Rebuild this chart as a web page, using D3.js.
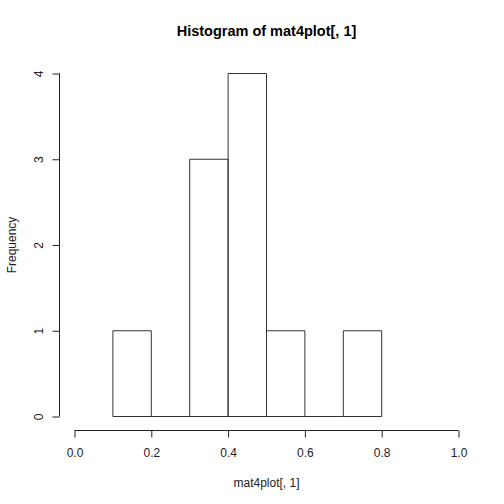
<!DOCTYPE html>
<html lang="en">
<head>
<meta charset="UTF-8">
<title>Histogram of mat4plot[, 1]</title>
<script src="https://d3js.org/d3.v7.min.js"></script>
<style>
  body { margin: 0; padding: 0; background: #fff; }
  svg { font-family: "Liberation Sans", Arial, Helvetica, sans-serif; }
</style>
</head>
<body>
<svg id="chart"></svg>
<script>
const binEdges = [0.1, 0.2, 0.3, 0.4, 0.5, 0.6, 0.7, 0.8];
const counts = [1, 0, 3, 4, 1, 0, 1];
const xTicks = [0, 0.2, 0.4, 0.6, 0.8, 1.0];
const yTicks = [0, 1, 2, 3, 4];

const width = 504, height = 504;
const svg = d3.select("#chart").attr("width", width).attr("height", height);

const x = d3.scaleLinear().domain([0, 1]).range([74.5, 458.5]);
const y = d3.scaleLinear().domain([0, 4]).range([416.5, 73.5]);

// bars drawn as closed paths so empty bins still show their baseline
const bins = counts.map((c, i) => ({ x0: binEdges[i], x1: binEdges[i + 1], n: c }));
svg.append("g").selectAll("path")
  .data(bins)
  .enter().append("path")
  .attr("d", d => `M${x(d.x0)},${y(0)}V${y(d.n)}H${x(d.x1)}V${y(0)}Z`)
  .attr("fill", "none")
  .attr("stroke", "#333")
  .attr("stroke-width", 1);

// x axis
const xAxis = svg.append("g")
  .attr("transform", "translate(0,430.5)")
  .call(d3.axisBottom(x).tickValues(xTicks).tickFormat(d3.format(".1f")).tickSize(7).tickSizeOuter(0));
xAxis.select(".domain").attr("d", `M${x(0)},0H${x(1)}`).attr("stroke", "#222");
xAxis.selectAll(".tick line").attr("stroke", "#222");
xAxis.selectAll("text").attr("font-size", 12).attr("fill", "#222").attr("dy", "1.35em");

// y axis
const yAxis = svg.append("g")
  .attr("transform", "translate(59.5,0)")
  .call(d3.axisLeft(y).tickValues(yTicks).tickFormat(d3.format("d")).tickSize(7).tickSizeOuter(0));
yAxis.select(".domain").attr("d", `M0,${y(0)}V${y(4)}`).attr("stroke", "#222");
yAxis.selectAll(".tick line").attr("stroke", "#222");
yAxis.selectAll(".tick text")
  .attr("font-size", 12).attr("fill", "#222")
  .attr("x", null).attr("dy", null)
  .attr("text-anchor", "middle")
  .attr("transform", "translate(-17,0) rotate(-90)");

// titles
svg.append("text")
  .attr("x", 266.5).attr("y", 36)
  .attr("text-anchor", "middle")
  .attr("font-size", 14.5).attr("font-weight", "bold")
  .text("Histogram of mat4plot[, 1]");

svg.append("text")
  .attr("x", 266.5).attr("y", 487)
  .attr("text-anchor", "middle")
  .attr("font-size", 12).attr("fill", "#222")
  .text("mat4plot[, 1]");

svg.append("text")
  .attr("transform", `translate(16,${(y(0) + y(4)) / 2}) rotate(-90)`)
  .attr("text-anchor", "middle")
  .attr("font-size", 12).attr("fill", "#222")
  .text("Frequency");
</script>
</body>
</html>
